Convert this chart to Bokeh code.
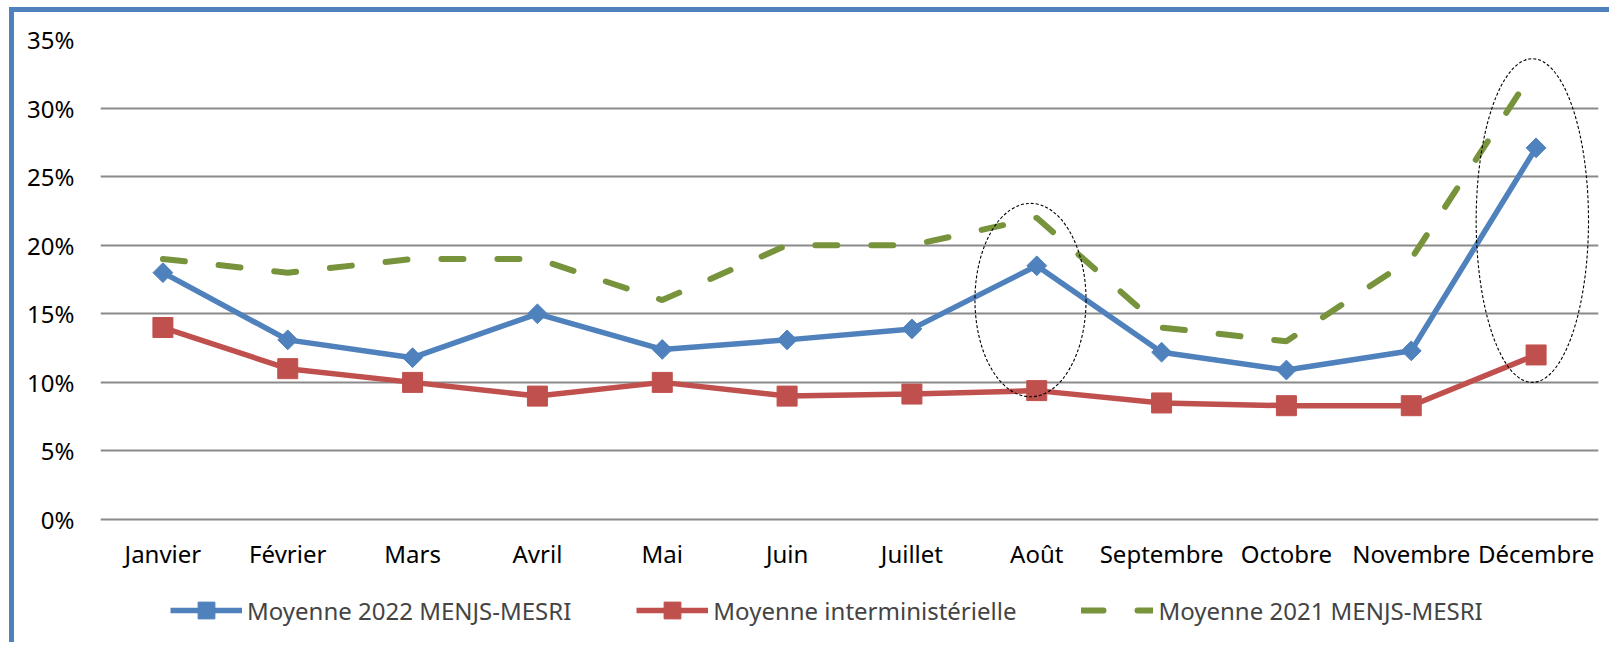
import numpy as np
from bokeh.plotting import figure
from bokeh.models import (Range1d, FixedTicker, PrintfTickFormatter, Legend, LegendItem)
from bokeh.core.properties import value
from bokeh.embed import file_html
from bokeh.resources import INLINE

# ---------------- data ----------------
months = ["Janvier", "Février", "Mars", "Avril", "Mai", "Juin", "Juillet",
          "Août", "Septembre", "Octobre", "Novembre", "Décembre"]
moy_2022 = [18.0, 13.1, 11.8, 15.0, 12.4, 13.1, 13.9, 18.5, 12.2, 10.9, 12.3, 27.1]
moy_inter = [14.0, 11.0, 10.0, 9.0, 10.0, 9.0, 9.15, 9.4, 8.5, 8.3, 8.3, 12.0]
moy_2021 = [19.0, 18.0, 19.0, 19.0, 16.0, 20.0, 20.0, 22.0, 14.0, 13.0, 19.0, 33.0]
y_ticks = [0, 5, 10, 15, 20, 25, 30, 35]
series_names = ["Moyenne 2022 MENJS-MESRI", "Moyenne interministérielle",
                "Moyenne 2021 MENJS-MESRI"]
# highlight ellipses (x in month-index units, y in %)
ell_x = [7.45, 11.47]
ell_y = [16.0, 21.8]
ell_w = [0.89, 0.90]
ell_h = [14.1, 23.6]

FONT = "Noto Sans"
FS = "24px"
BLUE = "#4F81BD"
RED = "#C0504D"
GREEN = "#77933C"

x = np.arange(len(months)) + 0.5
# vertical space below 0 % (holds month labels and legend, in % units)
Y_MIN = -9.33
LABEL_Y = -2.48

p = figure(frame_width=1498, frame_height=608, output_backend="svg", toolbar_location=None,
           x_range=Range1d(0, len(months)), y_range=Range1d(Y_MIN, 35),
           x_axis_location=None,
           min_border_left=86, min_border_right=16, min_border_top=27,
           min_border_bottom=0)
p.styles = {"position": "relative", "left": "14px", "top": "12px",
            "box-shadow": f"-5px -5px 0 0 {BLUE}"}
p.outline_line_color = None
p.background_fill_color = "white"
p.border_fill_color = "white"

# y axis
p.yaxis.ticker = FixedTicker(ticks=y_ticks)
p.yaxis.formatter = PrintfTickFormatter(format="%d%%")
p.yaxis.axis_line_color = None
p.yaxis.major_tick_line_color = None
p.yaxis.minor_tick_line_color = None
p.yaxis.major_tick_out = 0
p.yaxis.major_tick_in = 0
p.yaxis.major_label_text_font = FONT
p.yaxis.major_label_text_font_size = FS
p.yaxis.major_label_text_color = "black"
p.yaxis.major_label_standoff = 26

p.xgrid.grid_line_color = None
p.ygrid.grid_line_color = "#8a8a8a"
p.ygrid.grid_line_width = 1.8

# month (category) labels
p.text(x=x, y=[LABEL_Y] * len(months), text=months, text_align="center",
       text_baseline="alphabetic", text_font=value(FONT), text_font_size=FS,
       text_color="black")

# series
l1 = p.line(x, moy_2022, line_color=BLUE, line_width=5.5)
m1 = p.scatter(x, moy_2022, marker="square", angle=np.pi / 4, size=14,
               fill_color=BLUE, line_color=BLUE)
l2 = p.line(x, moy_inter, line_color=RED, line_width=5.5)
m2 = p.scatter(x, moy_inter, marker="square", size=20, fill_color=RED, line_color=RED)
l3 = p.line(x, moy_2021, line_color=GREEN, line_width=6, line_dash="22 34",
            line_cap="round")

# highlight ellipses
p.ellipse(x=ell_x, y=ell_y, width=ell_w, height=ell_h, fill_color=None,
          line_color="black", line_width=1.1, line_dash="3 2")

# legend (inside the frame, below the month labels)
renderers = [[l1, m1], [l2, m2], [l3]]
leg = Legend(items=[LegendItem(label=n, renderers=rs) for n, rs in zip(series_names, renderers)],
             location=(70, 16), orientation="horizontal", padding=0, margin=0, spacing=65,
             glyph_width=72, glyph_height=42, label_standoff=5,
             label_text_font=FONT, label_text_font_size=FS,
             border_line_color=None, background_fill_alpha=0)
p.add_layout(leg, "center")

open("out.html", "w").write(file_html(p, INLINE))
